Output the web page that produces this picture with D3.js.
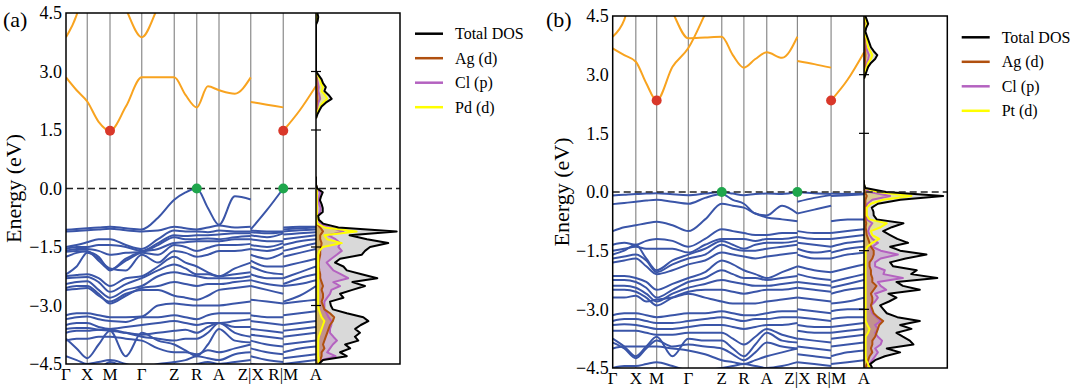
<!DOCTYPE html>
<html>
<head>
<meta charset="utf-8">
<script src="https://cdn.jsdelivr.net/npm/d3@7"></script>
<style>
    body { margin: 0; background: white; }
    svg { display: block; }
    svg text { font-family: "Liberation Serif", "DejaVu Serif", serif; fill: #000; }
</style>
</head>
<body>
<svg id="chart" width="1089" height="392"></svg>
<script>
// High-symmetry path (same labels for both panels)
var kLabels = ["Γ", "X", "M", "Γ", "Z", "R", "A", "Z|X", "R|M", "A"];
var kPosA = [0, 0.085, 0.176, 0.303, 0.433, 0.523, 0.612, 0.739, 0.869, 1.0];
var kPosB = [0, 0.092, 0.175, 0.301, 0.434, 0.522, 0.613, 0.735, 0.869, 1.0];
var yTicks = [-4.5, -3.0, -1.5, 0.0, 1.5, 3.0, 4.5];

// Each band: Γ m X m M m Γ m Z m R m A m Z | X m R | M m A  (m = mid of segment)
var valenceA = [
    [-1.06,-1.04,-1.02,-1.0,-0.98,-1.02,-1.05,-0.75,-0.29,-0.1,0.0,-0.5,-0.93,-0.2,-0.28, -1.05,-0.55,0.0, -1.0,-0.98,-0.98],
    [-1.1,-1.09,-1.07,-1.05,-1.03,-1.07,-1.1,-1.08,-0.98,-1.02,-1.05,-1.0,-0.95,-1.0,-0.98, -1.08,-1.1,-1.1, -1.05,-1.02,-1.0],
    [-1.5,-1.45,-1.38,-1.3,-1.3,-1.45,-1.55,-1.3,-1.08,-1.1,-1.1,-1.12,-1.08,-1.1,-1.1, -1.12,-1.15,-1.12, -1.1,-1.07,-1.05],
    [-1.55,-1.5,-1.5,-1.45,-1.45,-1.5,-1.6,-1.4,-1.2,-1.22,-1.2,-1.2,-1.18,-1.15,-1.15, -1.2,-1.25,-1.15, -1.18,-1.15,-1.12],
    [-1.6,-1.55,-1.55,-1.6,-1.7,-1.65,-1.62,-1.45,-1.25,-1.3,-1.3,-1.28,-1.3,-1.25,-1.22, -1.3,-1.35,-1.35, -1.3,-1.25,-1.2],
    [-1.75,-1.65,-1.6,-1.85,-2.08,-1.85,-1.63,-1.55,-1.4,-1.38,-1.35,-1.35,-1.35,-1.3,-1.3, -1.45,-1.5,-1.4, -1.45,-1.35,-1.3],
    [-1.62,-1.6,-1.62,-1.75,-2.1,-1.8,-1.65,-1.7,-1.45,-1.5,-1.6,-1.52,-1.45,-1.45,-1.42, -1.55,-1.6,-1.5, -1.6,-1.5,-1.4],
    [-2.2,-2.0,-1.65,-1.8,-2.05,-2.1,-1.7,-1.9,-1.6,-1.65,-1.75,-1.7,-1.6,-1.6,-1.55, -1.7,-1.8,-1.65, -1.75,-1.65,-1.55],
    [-2.25,-2.22,-2.2,-2.3,-2.5,-2.3,-2.25,-2.0,-1.75,-1.9,-2.0,-2.15,-2.25,-2.05,-1.9, -1.85,-2.0,-2.0, -2.0,-1.9,-1.8],
    [-2.3,-2.28,-2.27,-2.4,-2.65,-2.45,-2.3,-2.1,-1.95,-2.05,-2.2,-2.2,-2.25,-2.2,-2.15, -2.0,-2.15,-2.2, -2.3,-2.15,-2.0],
    [-2.45,-2.4,-2.38,-2.6,-2.8,-2.6,-2.5,-2.25,-2.15,-2.2,-2.25,-2.3,-2.3,-2.3,-2.25, -2.2,-2.3,-2.3, -2.45,-2.3,-2.2],
    [-2.55,-2.5,-2.5,-2.7,-2.95,-2.75,-2.55,-2.5,-2.4,-2.45,-2.5,-2.45,-2.45,-2.4,-2.35, -2.35,-2.45,-2.5, -2.5,-2.45,-2.35],
    [-2.6,-2.58,-2.55,-2.75,-2.9,-2.7,-2.6,-2.6,-2.75,-2.8,-2.85,-2.75,-2.6,-2.55,-2.5, -2.5,-2.6,-2.7, -2.9,-2.75,-2.5],
    [-3.25,-3.2,-3.2,-3.25,-3.3,-3.3,-3.28,-3.0,-2.95,-2.98,-3.0,-3.0,-3.0,-2.95,-2.9, -2.85,-2.9,-2.95, -2.95,-2.9,-2.85],
    [-3.35,-3.3,-3.28,-3.35,-3.4,-3.42,-3.3,-3.3,-3.25,-3.3,-3.35,-3.25,-3.2,-3.2,-3.2, -3.25,-3.3,-3.3, -3.25,-3.2,-3.15],
    [-3.5,-3.45,-3.45,-3.55,-3.6,-3.55,-3.5,-3.45,-3.4,-3.45,-3.5,-3.45,-3.45,-3.4,-3.35, -3.4,-3.45,-3.5, -3.5,-3.45,-3.4],
    [-3.6,-3.58,-3.58,-3.62,-3.65,-3.7,-3.75,-3.7,-3.65,-3.62,-3.7,-3.55,-3.45,-3.55,-3.55, -3.6,-3.65,-3.7, -3.65,-3.6,-3.55],
    [-3.7,-3.65,-3.65,-3.62,-3.62,-3.7,-3.8,-3.85,-3.9,-3.85,-3.85,-3.7,-3.45,-3.7,-3.8, -3.75,-3.8,-3.85, -3.8,-3.75,-3.7],
    [-3.85,-4.1,-4.35,-4.0,-3.65,-4.3,-3.7,-3.9,-4.0,-4.15,-4.3,-4.0,-3.6,-3.9,-3.95, -3.9,-4.0,-4.05, -4.0,-3.95,-3.9],
    [-3.9,-3.85,-3.85,-3.8,-3.8,-3.85,-3.9,-4.1,-4.2,-4.2,-4.25,-4.15,-4.2,-4.1,-4.0, -4.1,-4.2,-4.25, -4.2,-4.1,-4.05],
    [-4.3,-4.4,-4.5,-4.45,-4.4,-4.5,-4.6,-4.5,-4.45,-4.4,-4.3,-4.35,-4.4,-4.25,-4.2, -4.3,-4.4,-4.45, -4.35,-4.3,-4.25],
    [-4.6,-4.55,-4.55,-4.6,-4.45,-4.6,-4.7,-4.6,-4.6,-4.55,-4.5,-4.45,-4.5,-4.45,-4.4, -4.5,-4.55,-4.6, -4.5,-4.45,-4.4]
];
var conductionA = [
    [2.85,2.52,2.23,1.71,1.48,2.1,2.85,2.85,2.85,2.4,2.08,2.62,2.52,2.43,2.85, 2.22,2.15,2.08, 1.48,2.0,2.63],
    [3.88,4.45,5.5,5.5,5.5,4.6,3.88,4.65,5.5,5.5,5.5,5.5,5.5,5.5,5.5, 5.5,5.5,5.5, 5.5,5.5,5.5]
];
var valenceB = [
    [-0.09,-0.07,-0.05,-0.04,-0.03,-0.06,-0.08,-0.04,0.0,-0.04,-0.08,-0.05,-0.04,-0.05,0.0, 0.0,-0.03,-0.05, -0.04,-0.05,-0.04],
    [-0.31,-0.28,-0.25,-0.22,-0.2,-0.25,-0.3,-0.15,-0.05,-0.2,-0.3,-0.55,-0.6,-0.35,-0.55, -0.25,-0.15,-0.08, -0.1,-0.08,-0.06],
    [-1.0,-0.9,-0.85,-0.8,-0.76,-0.85,-1.0,-0.7,-0.3,-0.35,-0.4,-0.55,-0.65,-0.7,-0.75, -0.55,-0.45,-0.35, -0.75,-0.7,-0.7],
    [-1.35,-1.3,-1.35,-1.25,-1.2,-1.25,-1.4,-1.2,-0.95,-1.0,-1.05,-1.1,-1.1,-1.05,-1.05, -1.0,-1.05,-1.05, -1.05,-1.0,-0.95],
    [-1.5,-1.45,-1.4,-1.45,-1.45,-1.45,-1.55,-1.35,-1.2,-1.2,-1.2,-1.25,-1.2,-1.2,-1.15, -1.15,-1.2,-1.2, -1.2,-1.15,-1.1],
    [-1.6,-1.5,-1.35,-1.7,-2.0,-1.75,-1.6,-1.45,-1.25,-1.35,-1.45,-1.35,-1.3,-1.3,-1.25, -1.3,-1.35,-1.4, -1.4,-1.3,-1.25],
    [-1.7,-1.65,-1.6,-1.75,-2.05,-1.85,-1.7,-1.6,-1.35,-1.45,-1.5,-1.5,-1.45,-1.4,-1.35, -1.45,-1.55,-1.5, -1.55,-1.45,-1.4],
    [-1.8,-1.75,-1.7,-1.9,-2.1,-2.0,-1.85,-1.75,-1.55,-1.6,-1.65,-1.7,-1.65,-1.6,-1.55, -1.6,-1.7,-1.7, -1.7,-1.6,-1.55],
    [-2.15,-2.15,-2.2,-2.3,-2.5,-2.35,-2.2,-2.05,-1.75,-1.85,-2.0,-2.1,-2.2,-2.05,-1.9, -1.9,-2.0,-2.05, -2.05,-1.95,-1.85],
    [-2.25,-2.25,-2.3,-2.45,-2.7,-2.5,-2.3,-2.2,-2.0,-2.1,-2.2,-2.2,-2.25,-2.2,-2.15, -2.1,-2.2,-2.25, -2.3,-2.2,-2.1],
    [-2.4,-2.4,-2.45,-2.6,-2.8,-2.6,-2.45,-2.35,-2.25,-2.3,-2.35,-2.4,-2.4,-2.35,-2.3, -2.3,-2.35,-2.4, -2.45,-2.35,-2.25],
    [-2.5,-2.5,-2.55,-2.7,-2.9,-2.7,-2.55,-2.5,-2.5,-2.55,-2.6,-2.55,-2.5,-2.5,-2.45, -2.45,-2.5,-2.55, -2.6,-2.5,-2.45],
    [-2.7,-2.7,-2.65,-2.8,-2.75,-2.7,-2.6,-2.7,-2.8,-2.85,-2.85,-2.85,-2.8,-2.75,-2.7, -2.7,-2.75,-2.8, -2.85,-2.8,-2.7],
    [-3.15,-3.1,-3.1,-3.15,-3.2,-3.15,-3.1,-3.1,-3.05,-3.1,-3.15,-3.15,-3.1,-3.05,-3.05, -3.0,-3.05,-3.1, -3.05,-3.0,-3.0],
    [-3.3,-3.25,-3.25,-3.3,-3.35,-3.35,-3.3,-3.25,-3.2,-3.25,-3.3,-3.25,-3.25,-3.2,-3.2, -3.2,-3.25,-3.3, -3.25,-3.2,-3.2],
    [-3.4,-3.38,-3.4,-3.45,-3.5,-3.5,-3.45,-3.4,-3.4,-3.45,-3.5,-3.45,-3.4,-3.4,-3.35, -3.4,-3.45,-3.45, -3.45,-3.4,-3.35],
    [-3.55,-3.55,-3.55,-3.6,-3.65,-3.65,-3.6,-3.6,-3.6,-3.75,-3.9,-3.7,-3.5,-3.65,-3.75, -3.55,-3.6,-3.6, -3.6,-3.55,-3.5],
    [-3.75,-3.95,-4.2,-3.95,-3.7,-4.2,-3.75,-3.8,-3.8,-4.0,-4.2,-3.9,-3.6,-3.8,-3.85, -3.75,-3.8,-3.85, -3.75,-3.7,-3.65],
    [-3.85,-4.0,-4.25,-4.0,-3.8,-3.95,-3.9,-3.95,-4.0,-4.15,-4.3,-4.1,-3.85,-3.95,-4.0, -3.95,-4.0,-4.05, -3.95,-3.9,-3.85],
    [-4.0,-3.95,-3.95,-3.95,-3.95,-4.0,-4.05,-4.15,-4.3,-4.35,-4.4,-4.3,-4.2,-4.1,-4.0, -4.15,-4.2,-4.25, -4.2,-4.1,-4.05],
    [-4.5,-4.45,-4.45,-4.4,-4.35,-4.45,-4.55,-4.55,-4.5,-4.45,-4.4,-4.45,-4.5,-4.45,-4.35, -4.35,-4.4,-4.45, -4.4,-4.35,-4.3]
];
var conductionB = [
    [3.67,3.5,3.33,2.78,2.34,3.2,3.68,4.55,5.5,5.5,5.5,5.5,5.5,5.5,5.5, 3.35,3.27,3.18, 2.34,2.87,3.57],
    [3.97,4.4,5.5,5.5,5.5,4.6,3.93,3.95,3.97,3.5,3.18,3.4,3.57,3.43,3.97, 5.5,5.5,5.5, 5.5,5.5,5.5]
];

// band edges: [high-symmetry index, energy]
var cbmA = [[2, 1.48], [8, 1.48]];
var vbmA = [[5, 0.0], [8, 0.0]];
var cbmB = [[2, 2.34], [8, 2.34]];
var vbmB = [[4, 0.0], [7, 0.0]];

// DOS, valence region (shared energy grid)
var dosEnergyVB = [-4.5,-4.4,-4.3,-4.2,-4.1,-4.0,-3.9,-3.8,-3.7,-3.6,-3.5,-3.4,-3.3,-3.2,-3.1,-3.0,-2.9,-2.8,-2.7,-2.6,
    -2.5,-2.4,-2.3,-2.2,-2.1,-2.0,-1.9,-1.8,-1.7,-1.6,-1.5,-1.4,-1.3,-1.2,-1.1,-1.0,-0.9,-0.8,-0.7,-0.6,
    -0.5,-0.4,-0.3,-0.2,-0.1,0.0,0.1,0.2,0.3];
var dosTotalA = [1.0,2.5,11,8.6,12.2,10.4,15.1,13.9,15.7,14, 16,18.7,16.9,11,6,5.3,5,9.8,8.6,13,
    17.5,13,21.9,16.3,11,9.8,6.8,8.6,16.3,17.5, 19.3,25.8,18.2,12,28.8,8,2.5,1.0,0.8,2.4, 2.4,2.0,1.4,1.8,2.4,0.5,0,0,0];
var dosAgA = [0.5,1.5,2,2,3,2.5,3,3.5,4,4.5, 5,6,6.5,5,3,2.5,2,2.5,2.5,2,
    2.5,2,1.5,1.5,1.2,1,1,1.2,1.5,1.5, 1.8,2,1.5,1.5,2.5,1.5,0.3,0.3,0.3,0.3, 0.3,0.3,0.3,0.3,0.3,0.2,0,0,0];
var dosClA = [0.5,2,7,4,5,6,7.5,6.2,5,5, 5.5,5.5,4.5,3.8,3,3,3,4,5,5.5,
    8.6,6.2,11.5,9,6.2,5,3.8,5.5,7.4,9.2, 8,8.6,7,4.5,9.8,5,1.5,0.8,0.6,1.5, 1.6,1.2,1,1.2,1.5,0.3,0,0,0];
var dosPdA = [1,1,0.8,0.8,0.8,0.8,0.8,1,1.5,2, 2.5,3,2,1.5,1,0.8,0.8,0.8,0.8,0.8,
    0.8,0.8,0.8,0.8,0.8,0.8,0.8,0.8,0.8,1.2, 2.5,9.2,4,3,14.5,3,0.5,0.3,0.3,0.3, 0.3,0.3,0.3,0.3,0.3,0.2,0,0,0];
var dosTotalB = [3,2.2,4,7.5,13,8.2,17.8,16.5,14,11.7, 17.1,13,20.1,12,8.2,7,5.8,9,11.7,8.8,
    20.1,14,11.7,26.4,17,19,10.5,9.4,15,22.5, 13,9.4,15.9,12,9.4,6.9,10,14.2,4.6,3.5, 3.4,2.8,5,13.1,28.5,8,0.5,0,0];
var dosAgB = [0.5,1,1.5,2,3,2.5,3,3,4,4.5, 5,5.5,6.9,5,3.5,3,2.5,3,3,2.5,
    3.5,4.5,3,3,2.5,2.5,2,2,3,3.5, 3.5,2.5,2,1.5,1,0.8,0.6,0.8,0.5,0.5, 0.5,0.5,0.5,0.5,1,0.3,0,0,0];
var dosClB = [1.5,2,3,4,5,4,6,6.5,5,4, 5,4,6,4.5,3,2.5,2.5,4,5,4,
    8,6,5,14,7,7.5,4,4,6,12.2, 6,3,5,3,2,1.5,2,3,1,0.8, 0.8,0.6,1.2,3,9.4,2,0.1,0,0];
var dosPtB = [2,1.5,0.8,0.6,0.6,0.6,0.6,0.6,0.6,1.5, 2,1.2,0.6,0.6,0.6,0.6,0.6,0.6,0.6,0.6,
    0.6,0.6,0.6,0.6,0.6,0.6,0.6,0.6,0.6,0.6, 0.6,1.2,3,5.5,3,2.5,6,8.2,2,1, 1,1,2.5,7,17.1,5,0.3,0,0];

// DOS, conduction region
var dosEnergyCBA = [1.8,1.9,2.0,2.1,2.2,2.3,2.4,2.5,2.6,2.7,2.8,2.9,3.0,4.2,4.3,4.4,4.5];
var dosTotalCBA = [0,0.5,1.2,2,3.5,5.6,4.5,3,3.5,2.5,2,1,0,0,0.6,0.8,0.5];
var dosAgCBA = [0,0,0.1,0.2,0.3,0.5,0.4,0.3,0.3,0.2,0.2,0.1,0,0,0,0,0];
var dosClCBA = [0,0.1,0.3,0.5,0.8,1.5,1.2,0.8,1,0.7,0.4,0.2,0,0,0.1,0.1,0.1];
var dosPdCBA = [0,0.3,0.8,1.5,2.5,4,3.2,2,2.5,1.8,1.5,0.7,0,0,0.2,0.3,0.2];
var dosEnergyCBB = [2.9,3.0,3.1,3.2,3.3,3.4,3.5,3.6,3.7,3.8,3.9,4.0,4.1,4.2,4.3,4.4,4.5];
var dosTotalCBB = [0,0.5,1,1.5,2.5,4,4.8,3.5,2.5,2,1.5,1,0.5,0.8,1.5,1,0.5];
var dosAgCBB = [0,0,0.1,0.2,0.3,0.4,0.5,0.4,0.3,0.2,0.2,0.1,0,0.1,0.1,0.1,0];
var dosClCBB = [0,0.1,0.3,0.5,1,1.5,1.8,1.2,0.8,0.6,0.4,0.3,0.1,0.2,0.4,0.3,0.1];
var dosPtCBB = [0,0.3,0.6,1,1.5,2.5,3,2.3,1.5,1.2,1,0.6,0.3,0.5,1,0.6,0.3];

var legendA = ["Total DOS", "Ag (d)", "Cl (p)", "Pd (d)"];
var legendB = ["Total DOS", "Ag (d)", "Cl (p)", "Pt (d)"];

// Colors
var colTotal = "#000000", colAg = "#b0500f", colCl = "#b462c0", colMetal = "#ffff00";
var colVB = "#3a55a8", colCB = "#f8a31f";
var serif = "'Liberation Serif', 'DejaVu Serif', serif";

var svg = d3.select("#chart");
var defs = svg.append("defs");

function zip(e, v) {
    return e.map(function (d, i) { return [d, v[i]]; });
}

function drawPanel(p) {
    var g = svg.append("g");

    var x = d3.scaleLinear().domain([0, 1]).range([p.left, p.bandRight]);
    var y = d3.scaleLinear().domain([-4.5, 4.5]).range([p.bottom, p.top]);
    var xd = d3.scaleLinear().domain([0, 30]).range([p.bandRight, p.dosRight]);

    // Clip regions
    defs.append("clipPath").attr("id", "band-" + p.id).append("rect")
        .attr("x", p.left).attr("y", p.top)
        .attr("width", p.bandRight - p.left).attr("height", p.bottom - p.top);
    defs.append("clipPath").attr("id", "dos-" + p.id).append("rect")
        .attr("x", p.bandRight).attr("y", p.top)
        .attr("width", p.dosRight - p.bandRight).attr("height", p.bottom - p.top);

    // High-symmetry vertical lines
    g.selectAll(".kline")
        .data(p.kPos.slice(1, -1))
        .enter().append("line")
        .attr("x1", d => x(d)).attr("x2", d => x(d))
        .attr("y1", p.top).attr("y2", p.bottom)
        .style("stroke", "#8a8a8a")
        .style("stroke-width", 1.2);

    // Band lines: three separate path pieces per band
    var pieces = [[0, 7], [7, 8], [8, 9]];
    var line = d3.line()
        .x(d => x(d[0]))
        .y(d => y(d[1]))
        .curve(d3.curveMonotoneX);

    function bandPieces(row) {
        var out = [];
        var n = 0;
        pieces.forEach(function (pc) {
            var pts = [];
            for (var i = pc[0]; i < pc[1]; i++) {
                pts.push([p.kPos[i], row[n++]]);
                pts.push([(p.kPos[i] + p.kPos[i + 1]) / 2, row[n++]]);
            }
            pts.push([p.kPos[pc[1]], row[n++]]);
            out.push(pts);
        });
        return out;
    }

    var bandG = g.append("g").attr("clip-path", "url(#band-" + p.id + ")");
    p.valence.forEach(function (row) {
        bandPieces(row).forEach(function (pts) {
            bandG.append("path").attr("d", line(pts))
                .style("fill", "none").style("stroke", colVB).style("stroke-width", 2);
        });
    });
    p.conduction.forEach(function (row) {
        bandPieces(row).forEach(function (pts) {
            bandG.append("path").attr("d", line(pts))
                .style("fill", "none").style("stroke", colCB).style("stroke-width", 2);
        });
    });

    // DOS fills and lines
    var dosG = g.append("g").attr("clip-path", "url(#dos-" + p.id + ")");
    var area = d3.area()
        .y(d => y(d[0]))
        .x0(xd(0))
        .x1(d => xd(d[1]));
    var dline = d3.line()
        .y(d => y(d[0]))
        .x(d => xd(d[1]));

    var series = [
        { vb: p.dosTotal, cb: p.dosTotalCB, fill: "#d9d9d9", op: 1, stroke: colTotal },
        { vb: p.dosCl, cb: p.dosClCB, fill: colCl, op: 0.3, stroke: colCl },
        { vb: p.dosAg, cb: p.dosAgCB, fill: colAg, op: 0.35, stroke: colAg },
        { vb: p.dosMetal, cb: p.dosMetalCB, fill: colMetal, op: 0.3, stroke: colMetal }
    ];

    series.forEach(function (s) {
        [zip(dosEnergyVB, s.vb), zip(p.dosEnergyCB, s.cb)].forEach(function (pts) {
            dosG.append("path").attr("d", area(pts))
                .style("fill", s.fill).style("fill-opacity", s.op);
        });
    });
    // lines: Cl, Ag, metal, then total on top
    [series[1], series[2], series[3], series[0]].forEach(function (s) {
        [zip(dosEnergyVB, s.vb), zip(p.dosEnergyCB, s.cb)].forEach(function (pts) {
            dosG.append("path").attr("d", dline(pts))
                .style("fill", "none").style("stroke", s.stroke)
                .style("stroke-width", 2).style("stroke-linejoin", "round");
        });
    });

    // Fermi level
    g.append("line")
        .attr("x1", p.left).attr("x2", p.dosRight)
        .attr("y1", y(0)).attr("y2", y(0))
        .style("stroke", "#222")
        .style("stroke-width", 1.5)
        .style("stroke-dasharray", "7,4");

    // Band edge markers
    g.selectAll(".cbm")
        .data(p.cbm)
        .enter().append("circle")
        .attr("cx", d => x(p.kPos[d[0]])).attr("cy", d => y(d[1]))
        .attr("r", 5).style("fill", "#d9382a");
    g.selectAll(".vbm")
        .data(p.vbm)
        .enter().append("circle")
        .attr("cx", d => x(p.kPos[d[0]])).attr("cy", d => y(d[1]))
        .attr("r", 5).style("fill", "#1fa64c");

    // Frame and DOS separator
    g.append("rect")
        .attr("x", p.left).attr("y", p.top)
        .attr("width", p.dosRight - p.left).attr("height", p.bottom - p.top)
        .style("fill", "none").style("stroke", "#000").style("stroke-width", 1.5);
    g.append("line")
        .attr("x1", p.bandRight).attr("x2", p.bandRight)
        .attr("y1", p.top).attr("y2", p.bottom)
        .style("stroke", "#000").style("stroke-width", 1.5);

    // in/out ticks on DOS axis
    g.selectAll(".dtick")
        .data(yTicks.filter(d => Math.abs(d) < 4.5 && d !== 0))
        .enter().append("line")
        .attr("x1", p.bandRight - 5).attr("x2", p.bandRight + 5)
        .attr("y1", d => y(d)).attr("y2", d => y(d))
        .style("stroke", "#000").style("stroke-width", 1.2);

    // Energy axis labels
    var yAxis = d3.axisLeft(y)
        .tickValues(yTicks)
        .tickFormat(d3.format(".1f"))
        .tickSize(0)
        .tickPadding(4);
    var ya = g.append("g")
        .attr("transform", "translate(" + p.left + ",0)")
        .call(yAxis)
        .attr("font-family", serif)
        .attr("font-size", 18);
    ya.select(".domain").remove();
    ya.selectAll("text")
        .style("font-family", serif)
        .style("font-size", "18px")
        .style("fill", "#000");

    // k-point labels
    g.selectAll(".klabel")
        .data(kLabels)
        .enter().append("text")
        .attr("x", (d, i) => x(p.kPos[i]))
        .attr("y", p.bottom + 16)
        .style("text-anchor", "middle")
        .style("font-family", serif)
        .style("font-size", "17px")
        .text(d => d);

    // Axis title and panel letter
    g.append("text")
        .attr("transform", "translate(" + p.titleX + "," + y(0) + ") rotate(-90)")
        .style("text-anchor", "middle")
        .style("font-family", serif)
        .style("font-size", "22px")
        .text("Energy (eV)");
    g.append("text")
        .attr("x", p.letterX).attr("y", 27)
        .style("font-family", serif)
        .style("font-size", "22px")
        .text(p.letter);

    // Legend
    var lcolors = [colTotal, colAg, colCl, colMetal];
    var keys = g.selectAll(".key")
        .data(p.legend)
        .enter().append("g")
        .attr("transform", (d, i) => "translate(" + p.legendX + "," + (p.legendY + i * 24.5) + ")");
    keys.append("line")
        .attr("x1", 0).attr("x2", 28)
        .style("stroke", (d, i) => lcolors[i])
        .style("stroke-width", 2.5);
    keys.append("text")
        .attr("x", 40).attr("y", 5.5)
        .style("font-family", serif)
        .style("font-size", "16px")
        .text(d => d);
}

drawPanel({
    id: "a", letter: "(a)", letterX: 3, titleX: 21,
    left: 66, bandRight: 316, dosRight: 400, top: 13, bottom: 364,
    kPos: kPosA, valence: valenceA, conduction: conductionA,
    cbm: cbmA, vbm: vbmA,
    dosTotal: dosTotalA, dosAg: dosAgA, dosCl: dosClA, dosMetal: dosPdA,
    dosEnergyCB: dosEnergyCBA, dosTotalCB: dosTotalCBA, dosAgCB: dosAgCBA, dosClCB: dosClCBA, dosMetalCB: dosPdCBA,
    legend: legendA, legendX: 415, legendY: 33.7
});

drawPanel({
    id: "b", letter: "(b)", letterX: 546, titleX: 569,
    left: 612.7, bandRight: 864, dosRight: 947.3, top: 16, bottom: 368,
    kPos: kPosB, valence: valenceB, conduction: conductionB,
    cbm: cbmB, vbm: vbmB,
    dosTotal: dosTotalB, dosAg: dosAgB, dosCl: dosClB, dosMetal: dosPtB,
    dosEnergyCB: dosEnergyCBB, dosTotalCB: dosTotalCBB, dosAgCB: dosAgCBB, dosClCB: dosClCBB, dosMetalCB: dosPtCBB,
    legend: legendB, legendX: 961.7, legendY: 37.3
});
</script>
</body>
</html>
